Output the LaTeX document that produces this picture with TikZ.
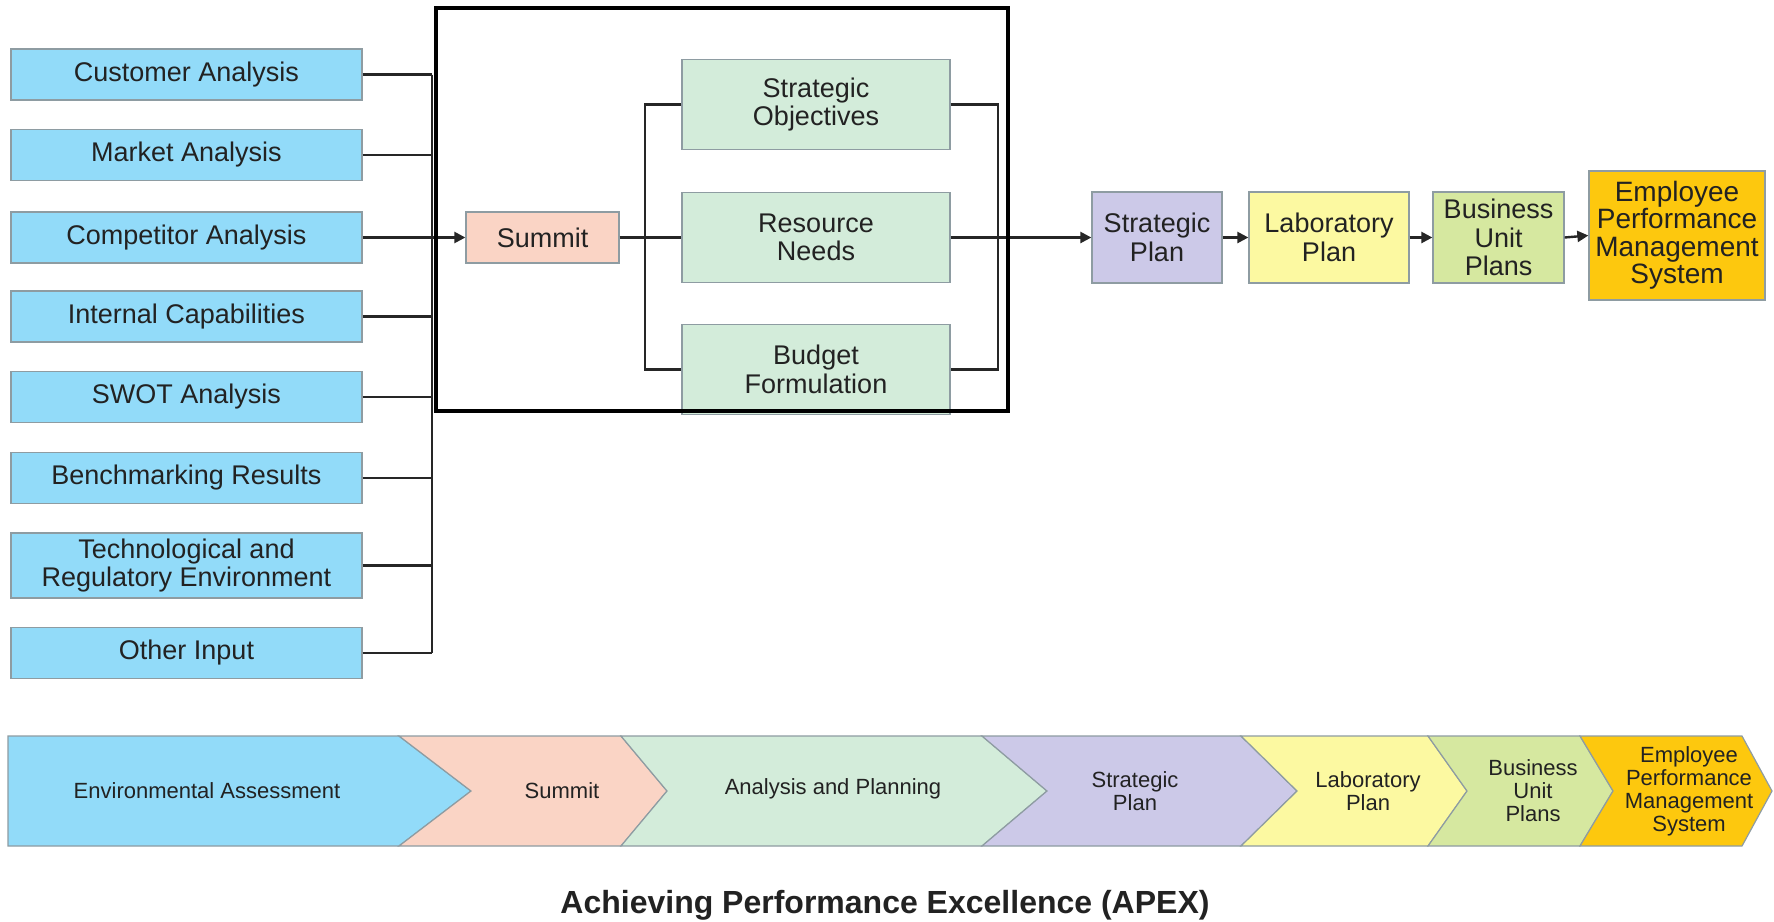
\documentclass[tikz,border=0pt]{standalone}
\usepackage{fontspec}
\setmainfont{Liberation Sans}
\usetikzlibrary{arrows.meta}

\definecolor{cblue}{HTML}{92DBF9}
\definecolor{cpeach}{HTML}{FAD4C5}
\definecolor{cgreen}{HTML}{D3ECDA}
\definecolor{cpurple}{HTML}{CCC9E8}
\definecolor{cyellow}{HTML}{FCF9A1}
\definecolor{clime}{HTML}{D6E8A0}
\definecolor{cgold}{HTML}{FDC80E}
\definecolor{ink}{HTML}{222222}
\definecolor{edge}{HTML}{8E9CA2}

\tikzset{
  basebox/.style={draw=edge, line width=1.3pt, inner sep=0pt, align=center,
    text=ink, font=\fontsize{27}{28.5}\selectfont},
  inbox/.style={basebox, fill=cblue, minimum width=351pt, minimum height=51pt},
  midbox/.style={basebox, fill=cgreen, minimum width=268pt, minimum height=90pt},
  conn/.style={draw=black!85, line width=2.4pt},
  arr/.style={conn, -{Triangle[length=11pt,width=11pt]}},
  chev/.style={draw=edge, line width=1.2pt},
  chevtext/.style={align=center, text=ink, inner sep=0pt,
    font=\fontsize{22}{23}\selectfont},
}

\begin{document}
\begin{tikzpicture}[x=1pt, y=-1pt]
  \fill[white] (0,0) rectangle (1774,921);
  \useasboundingbox (0,0) rectangle (1774,921);

  % input boxes
  \node[inbox] (cust)  at (186.5,74.5)  {Customer Analysis};
  \node[inbox] (mkt)   at (186.5,155)   {Market Analysis};
  \node[inbox] (comp)  at (186.5,237.5) {Competitor Analysis};
  \node[inbox] (intc)  at (186.5,316.5) {Internal Capabilities};
  \node[inbox] (swot)  at (186.5,397)   {SWOT Analysis};
  \node[inbox] (bench) at (186.5,478)   {Benchmarking Results};
  \node[inbox, minimum height=65pt] (tech) at (186.5,565.5)
    {Technological and\\Regulatory Environment};
  \node[inbox] (other) at (186.5,653)   {Other Input};

  % summit and planning activities
  \node[basebox, fill=cpeach, minimum width=153pt, minimum height=51pt]
    (summit) at (542.5,237.5) {Summit};
  \node[midbox] (so) at (816,104.5) {Strategic\\Objectives};
  \node[midbox] (rn) at (816,237.5) {Resource\\Needs};
  \node[midbox] (bf) at (816,369.5) {Budget\\Formulation};

  % plan chain
  \node[basebox, fill=cpurple, minimum width=130pt, minimum height=91pt]
    (sp) at (1157,237.5) {Strategic\\Plan};
  \node[basebox, fill=cyellow, minimum width=160pt, minimum height=91pt]
    (lp) at (1329,237.5) {Laboratory\\Plan};
  \node[basebox, fill=clime, minimum width=131pt, minimum height=91pt]
    (bup) at (1498.5,237.5) {Business\\Unit\\Plans};
  \node[basebox, fill=cgold, minimum width=176pt, minimum height=129pt,
    font=\fontsize{28}{27.5}\selectfont]
    (epms) at (1677,235.5) {Employee\\Performance\\Management\\System};

  % input bus
  \coordinate (busT) at (432,74.5);
  \coordinate (busB) at (432,653);
  \draw[conn] (busT) -- (busB);
  \foreach \n in {cust,mkt,intc,swot,bench,tech,other}
    \draw[conn] (\n.east) -- (\n.east -| busT);
  \draw[arr] (comp.east) -- (summit.west);

  % brackets around the planning activities
  \coordinate (lb) at (645,0);
  \coordinate (rb) at (998,0);
  \draw[conn] (so.west) -- (so.west -| lb) -- (bf.west -| lb) -- (bf.west);
  \draw[conn] (summit.east) -- (rn.west);
  \draw[conn] (so.east) -- (so.east -| rb) -- (bf.east -| rb) -- (bf.east);
  \draw[arr] (rn.east) -- (sp.west);
  \draw[arr] (sp.east) -- (lp.west);
  \draw[arr] (lp.east) -- (bup.west);
  \draw[arr] (bup.east) -- (epms.west);

  % frame around the summit stage
  \draw[line width=3.4pt, black] (436,8) rectangle (1008,411);

  % process band
  \filldraw[chev, fill=cblue]   (8,736) -- (399,736) -- (471,791) -- (399,846) -- (8,846) -- cycle;
  \filldraw[chev, fill=cpeach]  (399,736) -- (621,736) -- (667,791) -- (621,846) -- (399,846) -- (471,791) -- cycle;
  \filldraw[chev, fill=cgreen]  (621,736) -- (982,736) -- (1047,791) -- (982,846) -- (621,846) -- (667,791) -- cycle;
  \filldraw[chev, fill=cpurple] (982,736) -- (1241,736) -- (1297,791) -- (1241,846) -- (982,846) -- (1047,791) -- cycle;
  \filldraw[chev, fill=cyellow] (1241,736) -- (1428,736) -- (1467,791) -- (1428,846) -- (1241,846) -- (1297,791) -- cycle;
  \filldraw[chev, fill=clime]   (1428,736) -- (1580,736) -- (1613,791) -- (1580,846) -- (1428,846) -- (1467,791) -- cycle;
  \filldraw[chev, fill=cgold]   (1580,736) -- (1742,736) -- (1772,791) -- (1742,846) -- (1580,846) -- (1613,791) -- cycle;

  \node[chevtext] (t1) at (207,791)  {Environmental Assessment};
  \node[chevtext] (t2) at (562,791)  {Summit};
  \node[chevtext] (t3) at (833,789)  {Analysis and Planning};
  \node[chevtext] (t4) at (1135,791) {Strategic\\Plan};
  \node[chevtext] (t5) at (1368,791) {Laboratory\\Plan};
  \node[chevtext] (t6) at (1533,791) {Business\\Unit\\Plans};
  \node[chevtext] (t7) at (1689,791) {Employee\\Performance\\Management\\System};

  \node[text=ink, inner sep=0pt, font=\bfseries\fontsize{32}{36}\selectfont]
    (title) at (885,905) {Achieving Performance Excellence (APEX)};
\end{tikzpicture}
\end{document}
